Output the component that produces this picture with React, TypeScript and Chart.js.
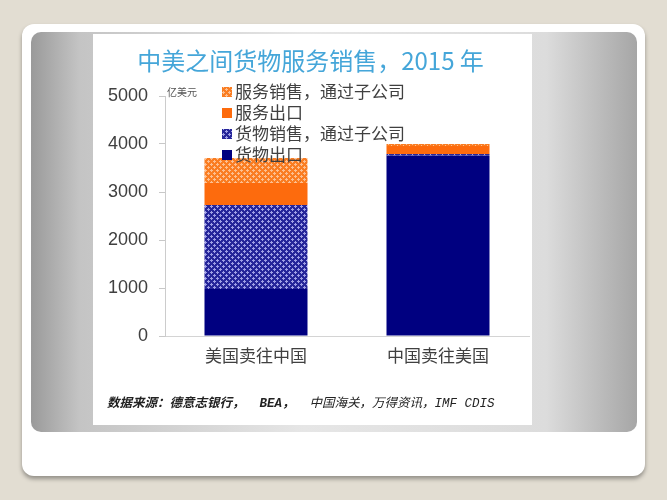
import React, { useEffect, useRef } from "react";
import { Chart, registerables } from "chart.js";

Chart.register(...registerables);

// ---- data ----
const categories = ["美国卖往中国", "中国卖往美国"];
const seriesNames = ["货物出口", "货物销售，通过子公司", "服务出口", "服务销售，通过子公司"];
const goodsExports = [980, 3760];
const goodsSubsidiary = [1750, 30];
const servicesExports = [460, 170];
const servicesSubsidiary = [520, 40];
const yMin = 0;
const yMax = 5000;
const yStep = 1000;
const unitLabel = "亿美元";
const titleText = "中美之间货物服务销售，2015 年";
const sourceBold = "数据来源：德意志银行，  BEA，";
const sourceRest = "  中国海关，万得资讯，IMF CDIS";

function makePattern(bg: string, fg: string): CanvasPattern | string {
  const c = document.createElement("canvas");
  c.width = 6;
  c.height = 6;
  const g = c.getContext("2d");
  if (!g) return bg;
  g.fillStyle = bg;
  g.fillRect(0, 0, 6, 6);
  g.fillStyle = fg;
  g.fillRect(1, 0, 1, 1);
  g.fillRect(0, 1, 3, 1);
  g.fillRect(1, 2, 1, 1);
  g.fillRect(4, 3, 1, 1);
  g.fillRect(3, 4, 3, 1);
  g.fillRect(4, 5, 1, 1);
  return g.createPattern(c, "repeat") || bg;
}

const legendPlugin = {
  id: "customLegend",
  afterDraw(chart: any) {
    const ctx = chart.ctx;
    const area = chart.chartArea;
    const items = chart.data.datasets.slice().reverse();
    ctx.save();
    ctx.fillStyle = "#555555";
    ctx.font = '10px "Noto Sans CJK SC"';
    ctx.textBaseline = "middle";
    ctx.textAlign = "left";
    ctx.fillText(unitLabel, area.left + 2, area.top - 4);
    items.forEach((ds: any, i: number) => {
      const y = area.top - 4 + i * 21;
      const x = area.left + 57;
      ctx.fillStyle = ds.backgroundColor;
      ctx.fillRect(x, y - 5, 10, 10);
      ctx.fillStyle = "#404040";
      ctx.font = '17px "Noto Sans CJK SC"';
      ctx.fillText(ds.label, x + 13, y);
    });
    ctx.restore();
  },
};

export default function App() {
  const ref = useRef<HTMLCanvasElement | null>(null);

  useEffect(() => {
    if (!ref.current) return;
    const navy = "#000080";
    const orange = "#fd6b0d";
    const navyPat = makePattern("#26269a", "#a0a0e6");
    const orangePat = makePattern("#fa7d22", "#fdc092");
    const chart = new Chart(ref.current, {
      type: "bar",
      data: {
        labels: categories,
        datasets: [
          { label: seriesNames[0], data: goodsExports, backgroundColor: navy },
          { label: seriesNames[1], data: goodsSubsidiary, backgroundColor: navyPat as any },
          { label: seriesNames[2], data: servicesExports, backgroundColor: orange },
          { label: seriesNames[3], data: servicesSubsidiary, backgroundColor: orangePat as any },
        ],
      },
      options: {
        animation: false,
        responsive: false,
        maintainAspectRatio: false,
        layout: { padding: { top: 62, right: 3, bottom: 49, left: 0 } },
        datasets: { bar: { categoryPercentage: 1, barPercentage: 0.566 } },
        plugins: {
          legend: { display: false },
          title: { display: false },
          tooltip: { enabled: false },
        },
        scales: {
          x: {
            stacked: true,
            grid: { display: true, drawOnChartArea: false, drawTicks: false },
            border: { display: true, color: "#d4d4d4" },
            ticks: {
              color: "#404040",
              font: { size: 17, family: '"Noto Sans CJK SC"' },
              padding: 9,
            },
            afterFit: (s: any) => {
              s.height = 40;
            },
          },
          y: {
            stacked: true,
            min: yMin,
            max: yMax,
            ticks: {
              stepSize: yStep,
              color: "#404040",
              font: { size: 18, family: '"Liberation Sans", Arial' },
              padding: 11,
              callback: (v: any) => String(v),
            },
            grid: { drawOnChartArea: false, drawTicks: true, tickLength: 6, color: "#c8c8c8" },
            border: { display: true, color: "#cccccc" },
            afterFit: (s: any) => {
              s.width = 72;
            },
          },
        },
      },
      plugins: [legendPlugin],
    });
    return () => chart.destroy();
  }, []);

  return (
    <div
      style={{
        position: "fixed",
        left: 0,
        top: 0,
        width: 667,
        height: 500,
        background: "#e2ddd2",
        overflow: "hidden",
      }}
    >
      <div
        style={{
          position: "absolute",
          left: 22,
          top: 24,
          width: 623,
          height: 452,
          background: "#ffffff",
          borderRadius: 12,
          boxShadow: "0 3px 4px rgba(0,0,0,0.35)",
        }}
      />
      <div
        style={{
          position: "absolute",
          left: 31,
          top: 32,
          width: 606,
          height: 400,
          borderRadius: 10,
          background:
            "linear-gradient(to right, #9a9a9a 0%, #c4c4c4 8%, #e6e6e6 45%, #dcdcdc 85%, #a6a6a6 100%)",
        }}
      />
      <div
        style={{
          position: "absolute",
          left: 93,
          top: 34,
          width: 439,
          height: 391,
          background: "#ffffff",
        }}
      >
        <canvas ref={ref} width={439} height={391} style={{ position: "absolute", left: 0, top: 0, width: 439, height: 391 }} />
        <div
          style={{
            position: "absolute",
            left: 0,
            top: 9,
            width: 439,
            textAlign: "center",
            fontFamily: '"Noto Sans CJK SC"',
            fontSize: 24,
            color: "#45a6d9",
            lineHeight: "34px",
            whiteSpace: "nowrap",
            paddingRight: 4,
            boxSizing: "border-box",
          }}
        >
          {titleText}
        </div>
        <div
          style={{
            position: "absolute",
            left: 14,
            top: 362,
            fontFamily: '"Liberation Mono", "Noto Sans CJK SC"',
            fontSize: 12.5,
            fontStyle: "italic",
            color: "#222222",
            lineHeight: "16px",
            whiteSpace: "pre",
          }}
        >
          <span style={{ fontWeight: "bold" }}>{sourceBold}</span>
          <span>{sourceRest}</span>
        </div>
      </div>
    </div>
  );
}
